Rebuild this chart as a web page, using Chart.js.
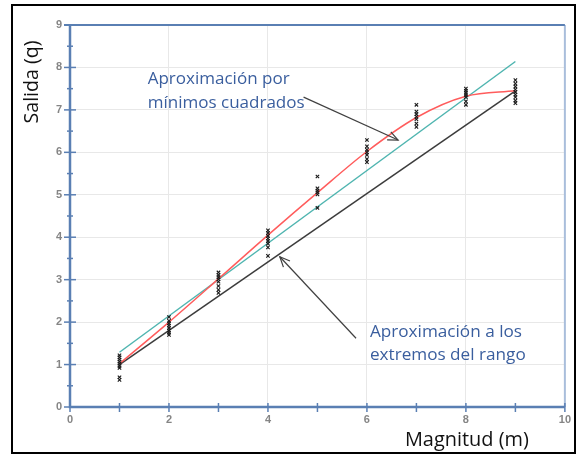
<!DOCTYPE html>
<html><head><meta charset="utf-8">
<script src="https://cdn.jsdelivr.net/npm/chart.js@4"></script>
<style>html,body{margin:0;padding:0;background:#fff;} canvas{display:block;}</style>
</head><body>
<canvas id="c" width="577" height="456"></canvas>
<script>
// ---- data ----
const magnitudes = [1, 2, 3, 4, 5, 6, 7, 8, 9];
const samplesAt1 = [1.22, 1.17, 1.12, 1.07, 1.02, 0.97, 0.92, 0.70, 0.64];
const samplesAt2 = [2.12, 2.03, 1.97, 1.92, 1.86, 1.80, 1.75, 1.70];
const samplesAt3 = [3.17, 3.11, 3.06, 3.01, 2.95, 2.85, 2.76, 2.69];
const samplesAt4 = [4.16, 4.10, 4.03, 3.97, 3.91, 3.85, 3.76, 3.56];
const samplesAt5 = [5.43, 5.15, 5.10, 5.06, 5.01, 4.69];
const samplesAt6 = [6.29, 6.14, 6.06, 6.00, 5.94, 5.84, 5.77];
const samplesAt7 = [7.12, 6.96, 6.90, 6.84, 6.78, 6.68, 6.60];
const samplesAt8 = [7.50, 7.45, 7.40, 7.35, 7.30, 7.20, 7.12];
const samplesAt9 = [7.70, 7.62, 7.55, 7.48, 7.42, 7.36, 7.30, 7.22, 7.16];
const leastSquaresCurve = [1.02, 2.00, 3.02, 4.05, 5.05, 6.02, 6.82, 7.32, 7.45];
const leastSquaresLineX = [1, 9];
const leastSquaresLineY = [1.29, 8.14];
const rangeEndsLineX = [1, 9];
const rangeEndsLineY = [1.00, 7.45];
const xTickLabels = [0, 2, 4, 6, 8, 10];
const yTickLabels = [0, 1, 2, 3, 4, 5, 6, 7, 8, 9];
const xTitle = 'Magnitud (m)';
const yTitle = 'Salida (q)';
const noteLeastSquares = ['Aproximación por', 'mínimos cuadrados'];
const noteRangeEnds = ['Aproximación a los', 'extremos del rango'];

// ---- build datasets ----
const sampleSets = [samplesAt1, samplesAt2, samplesAt3, samplesAt4, samplesAt5, samplesAt6, samplesAt7, samplesAt8, samplesAt9];
const samplePoints = [];
sampleSets.forEach((set, i) => set.forEach(v => samplePoints.push({x: magnitudes[i], y: v})));
const curvePoints = magnitudes.map((m, i) => ({x: m, y: leastSquaresCurve[i]}));
const lsLinePoints = leastSquaresLineX.map((m, i) => ({x: m, y: leastSquaresLineY[i]}));
const rangeLinePoints = rangeEndsLineX.map((m, i) => ({x: m, y: rangeEndsLineY[i]}));

const AXIS_BLUE = '#5a7fb3';
const NOTE_BLUE = '#3a5e9e';
const FAMILY = '"Open Sans", "Liberation Sans", sans-serif';

function fitSize(ctx, text, width, weight) {
  ctx.font = (weight || 'normal') + ' 100px ' + FAMILY;
  return 100 * width / ctx.measureText(text).width;
}

function arrow(ctx, x1, y1, x2, y2) {
  ctx.beginPath(); ctx.moveTo(x1, y1); ctx.lineTo(x2, y2); ctx.stroke();
  const ang = Math.atan2(y2 - y1, x2 - x1), L = 11, s = 0.42;
  ctx.beginPath();
  ctx.moveTo(x2 - L * Math.cos(ang - s), y2 - L * Math.sin(ang - s));
  ctx.lineTo(x2, y2);
  ctx.lineTo(x2 - L * Math.cos(ang + s), y2 - L * Math.sin(ang + s));
  ctx.stroke();
}

const overlay = {
  id: 'overlay',
  beforeDraw(chart) {
    const c = chart.ctx; c.save(); c.fillStyle = '#fff'; c.fillRect(0, 0, chart.width, chart.height); c.restore();
  },
  afterDraw(chart) {
    const {ctx, chartArea: a, scales: {x, y}} = chart;
    ctx.save();
    // frame of plot: top and right
    ctx.lineWidth = 2;
    ctx.strokeStyle = '#a9bedb';
    ctx.beginPath(); ctx.moveTo(a.right, a.top); ctx.lineTo(a.right, a.bottom); ctx.stroke();
    ctx.strokeStyle = AXIS_BLUE;
    ctx.beginPath(); ctx.moveTo(a.left - 6, a.top); ctx.lineTo(a.right, a.top); ctx.stroke();
    // axes
    ctx.lineWidth = 2.5;
    ctx.beginPath(); ctx.moveTo(a.left, a.top); ctx.lineTo(a.left, a.bottom); ctx.lineTo(a.right, a.bottom); ctx.stroke();
    // tick marks crossing axes
    ctx.lineWidth = 1.5;
    for (let v = 0; v <= 9; v += 0.5) {
      const py = y.getPixelForValue(v), major = Number.isInteger(v);
      ctx.beginPath(); ctx.moveTo(a.left - (major ? 6 : 3), py); ctx.lineTo(a.left + (major ? 6 : 3), py); ctx.stroke();
    }
    for (let v = 0; v <= 10; v += 1) {
      const px = x.getPixelForValue(v);
      ctx.beginPath(); ctx.moveTo(px, a.bottom - 4); ctx.lineTo(px, a.bottom + 5); ctx.stroke();
    }
    // axis titles
    ctx.fillStyle = '#111';
    ctx.textBaseline = 'middle';
    let fs = fitSize(ctx, yTitle, 83);
    ctx.font = fs + 'px ' + FAMILY;
    ctx.save();
    ctx.translate(a.left - 38, a.top + 57);
    ctx.rotate(-Math.PI / 2);
    ctx.textAlign = 'center';
    ctx.fillText(yTitle, 0, 0);
    ctx.restore();
    fs = fitSize(ctx, xTitle, 124);
    ctx.font = fs + 'px ' + FAMILY;
    ctx.textAlign = 'right';
    ctx.fillText(xTitle, a.right - 36, a.bottom + 33);
    // annotations
    ctx.fillStyle = NOTE_BLUE;
    ctx.textAlign = 'left';
    fs = fitSize(ctx, noteLeastSquares[1], 157);
    ctx.font = fs + 'px ' + FAMILY;
    ctx.fillText(noteLeastSquares[0], x.getPixelForValue(1.57), y.getPixelForValue(7.72));
    ctx.fillText(noteLeastSquares[1], x.getPixelForValue(1.57), y.getPixelForValue(7.15));
    fs = fitSize(ctx, noteRangeEnds[1], 156);
    ctx.font = fs + 'px ' + FAMILY;
    ctx.fillText(noteRangeEnds[0], x.getPixelForValue(6.06), y.getPixelForValue(1.77));
    ctx.fillText(noteRangeEnds[1], x.getPixelForValue(6.06), y.getPixelForValue(1.23));
    // arrows
    ctx.strokeStyle = '#404040';
    ctx.lineWidth = 1.2;
    arrow(ctx, x.getPixelForValue(4.72), y.getPixelForValue(7.30), x.getPixelForValue(6.63), y.getPixelForValue(6.29));
    arrow(ctx, x.getPixelForValue(5.78), y.getPixelForValue(1.62), x.getPixelForValue(4.24), y.getPixelForValue(3.54));
    // outer frame
    ctx.strokeStyle = '#000';
    ctx.lineWidth = 2;
    ctx.strokeRect(12, 5, 563, 448);
    ctx.restore();
  }
};

new Chart(document.getElementById('c'), {
  type: 'scatter',
  data: {
    datasets: [
      {data: samplePoints, pointStyle: 'crossRot', pointRadius: 2.4, borderColor: '#1a1a1a', backgroundColor: '#1a1a1a', borderWidth: 1.1, order: 0},
      {data: curvePoints, showLine: true, cubicInterpolationMode: 'monotone', borderColor: '#ff5c5c', borderWidth: 1.5, pointRadius: 0, order: 1},
      {data: lsLinePoints, showLine: true, borderColor: '#4fb5b0', borderWidth: 1.5, pointRadius: 0, order: 2},
      {data: rangeLinePoints, showLine: true, borderColor: '#3c3c3c', borderWidth: 1.5, pointRadius: 0, order: 3}
    ]
  },
  options: {
    responsive: false,
    devicePixelRatio: 1,
    animation: false,
    layout: {padding: {left: 0, right: 9, top: 25, bottom: 0}},
    plugins: {legend: {display: false}, tooltip: {enabled: false}},
    scales: {
      x: {
        type: 'linear', min: 0, max: 10,
        border: {display: false},
        grid: {drawTicks: false, color: c => (xTickLabels.includes(c.tick.value) && c.tick.value > 0 && c.tick.value < 10) ? '#e8e8e8' : 'rgba(0,0,0,0)', lineWidth: 1},
        ticks: {stepSize: 1, autoSkip: false, maxRotation: 0, padding: 6, color: '#858585',
          font: {family: '"Liberation Sans", Arial, sans-serif', size: 11, weight: 'bold'},
          callback: v => xTickLabels.includes(v) ? String(v) : ''},
        afterFit: s => { s.height = 49; }
      },
      y: {
        type: 'linear', min: 0, max: 9,
        border: {display: false},
        grid: {drawTicks: false, color: c => (yTickLabels.includes(c.tick.value) && c.tick.value > 0 && c.tick.value < 9) ? '#e8e8e8' : 'rgba(0,0,0,0)', lineWidth: 1},
        ticks: {stepSize: 0.5, autoSkip: false, padding: 8, color: '#858585',
          font: {family: '"Liberation Sans", Arial, sans-serif', size: 11, weight: 'bold'},
          callback: v => yTickLabels.includes(v) ? String(v) : ''},
        afterFit: s => { s.width = 70; }
      }
    }
  },
  plugins: [overlay]
});
</script>
</body></html>
